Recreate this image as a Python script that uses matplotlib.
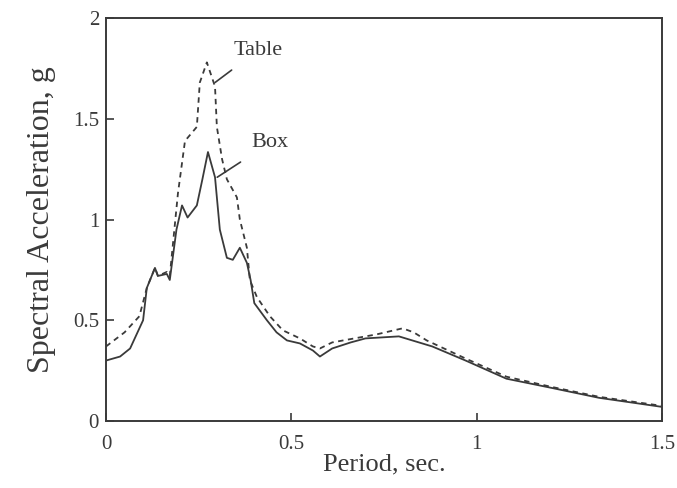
import matplotlib
matplotlib.use("Agg")
import matplotlib.pyplot as plt

box_T = [0.0, 0.038, 0.065, 0.10, 0.11, 0.132, 0.14, 0.164, 0.172, 0.19, 0.205, 0.22, 0.245, 0.26, 0.275,
         0.294, 0.307, 0.326, 0.342, 0.361, 0.38, 0.39, 0.40, 0.434, 0.46, 0.488, 0.523, 0.558, 0.577,
         0.61, 0.66, 0.70, 0.79, 0.88, 0.97, 1.08, 1.20, 1.33, 1.5]
box_Sa = [0.30, 0.32, 0.36, 0.50, 0.66, 0.76, 0.72, 0.73, 0.70, 0.95, 1.07, 1.01, 1.07, 1.20, 1.335,
          1.21, 0.95, 0.81, 0.80, 0.86, 0.785, 0.70, 0.585, 0.50, 0.44, 0.40, 0.385, 0.35, 0.32,
          0.36, 0.39, 0.41, 0.42, 0.37, 0.30, 0.21, 0.165, 0.115, 0.07]

table_T = [0.0, 0.05, 0.09, 0.11, 0.132, 0.14, 0.164, 0.172, 0.194, 0.213, 0.245, 0.253, 0.272, 0.294,
           0.299, 0.313, 0.326, 0.353, 0.361, 0.38, 0.388, 0.407, 0.442, 0.477, 0.523, 0.558, 0.577,
           0.61, 0.73, 0.80, 0.83, 0.865, 0.97, 1.08, 1.20, 1.33, 1.5]
table_Sa = [0.37, 0.44, 0.52, 0.66, 0.76, 0.72, 0.74, 0.72, 1.13, 1.39, 1.46, 1.68, 1.78, 1.66,
            1.46, 1.30, 1.20, 1.11, 1.00, 0.86, 0.70, 0.615, 0.52, 0.45, 0.41, 0.37, 0.36,
            0.39, 0.43, 0.46, 0.44, 0.40, 0.31, 0.22, 0.17, 0.12, 0.075]

xticks = [0, 0.5, 1, 1.5]
xticklabels = ["0", "0.5", "1", "1.5"]
yticks = [0, 0.5, 1, 1.5, 2]
yticklabels = ["0", "0.5", "1", "1.5", "2"]

plt.rcParams['font.family'] = ['Liberation Serif', 'DejaVu Serif']
ink = "#3a3a3a"

fig = plt.figure(figsize=(6.77, 4.88), dpi=100)
ax = fig.add_axes([0.1566, 0.1373, 0.978 - 0.1566, 0.963 - 0.1373])

ax.plot(table_T, table_Sa, color=ink, lw=1.3, ls=(0, (3, 2.5)))
ax.plot(box_T, box_Sa, color=ink, lw=1.3)

ax.set_xlim(0, 1.5)
ax.set_ylim(0, 2)
ax.set_xticks(xticks)
ax.set_xticklabels(xticklabels)
ax.set_yticks(yticks)
ax.set_yticklabels(yticklabels)
ax.tick_params(direction='in', length=6, width=1.2, colors=ink, labelsize=15)
ax.tick_params(axis='x', pad=10)
ax.tick_params(axis='y', pad=5)
for s in ax.spines.values():
    s.set_color(ink)
    s.set_linewidth(1.4)

ax.set_xlabel("Period, sec.", fontsize=19, color=ink, labelpad=0)
ax.set_ylabel("Spectral Acceleration, g", fontsize=23, color=ink, labelpad=12)

ax.annotate("Table", xy=(0.294, 1.68), xytext=(0.41, 1.84), fontsize=16, color=ink,
            ha='center', va='center',
            arrowprops=dict(arrowstyle='-', color=ink, lw=1.2, shrinkA=9, shrinkB=0))
ax.annotate("Box", xy=(0.30, 1.21), xytext=(0.442, 1.38), fontsize=16, color=ink,
            ha='center', va='center',
            arrowprops=dict(arrowstyle='-', color=ink, lw=1.2, shrinkA=9, shrinkB=0))

fig.savefig("out.png", dpi=100)
